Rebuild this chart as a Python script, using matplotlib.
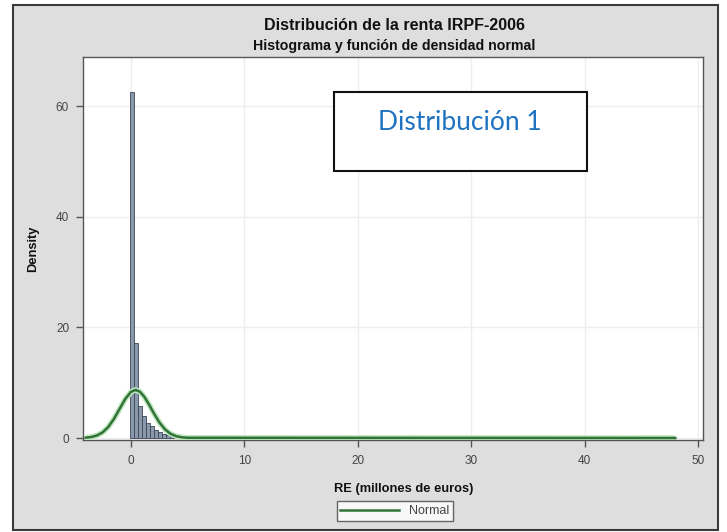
import matplotlib
matplotlib.use("Agg")
import matplotlib.pyplot as plt
from matplotlib.patches import Rectangle

# ---- data ----
bin_left = [-0.1, 0.25, 0.60, 0.95, 1.30, 1.65, 2.00, 2.35, 2.70, 3.05, 3.40, 3.75]
bin_width = 0.35
density = [62.5, 17.2, 5.7, 3.9, 2.8, 2.1, 1.5, 1.0, 0.7, 0.5, 0.3, 0.2]

normal_x = [-4.0, -3.5, -3.0, -2.5, -2.0, -1.5, -1.0, -0.5, 0.0, 0.4, 0.8, 1.2,
            1.6, 2.0, 2.5, 3.0, 3.5, 4.0, 4.5, 5.0, 48.0]
normal_y = [0.06, 0.18, 0.46, 1.02, 2.0, 3.46, 5.28, 7.07, 8.35, 8.7, 8.35, 7.39,
            6.03, 4.53, 2.83, 1.56, 0.75, 0.32, 0.12, 0.04, 0.0]

x_ticks = [0, 10, 20, 30, 40, 50]
y_ticks = [0, 20, 40, 60]

title = "Distribución de la renta IRPF-2006"
subtitle = "Histograma y función de densidad normal"
x_label = "RE (millones de euros)"
y_label = "Density"
legend_label = "Normal"
annotation = "Distribución 1"

# ---- figure ----
W, H = 727, 532
fig = plt.figure(figsize=(W / 100, H / 100), dpi=100)
fig.patch.set_facecolor("white")

def fx(px):
    return px / W

def fy(py):
    return 1 - py / H

# outer grey frame
fig.patches.append(Rectangle((fx(13), fy(530)), fx(718) - fx(13), fy(5) - fy(530),
                             transform=fig.transFigure, facecolor="#dedede",
                             edgecolor="#3a3a3a", linewidth=1.5, zorder=-5))

left, right, top, bottom = 83, 703, 57, 440
ax = fig.add_axes([fx(left), fy(bottom), (right - left) / W, (bottom - top) / H])
ax.set_zorder(1)
ax.set_facecolor("white")

ax.bar(bin_left, density, width=bin_width, align="edge",
       color="#8a98ab", edgecolor="#3b4658", linewidth=0.6, zorder=3)
ax.plot(normal_x, normal_y, color="#bfe6bf", linewidth=4.0, zorder=4, solid_capstyle="butt")
ax.plot(normal_x, normal_y, color="#317336", linewidth=1.8, zorder=5,
        label=legend_label)

ax.set_xlim(-4.23, 50.44)
ax.set_ylim(-0.36, 68.9)
ax.set_xticks(x_ticks)
ax.set_yticks(y_ticks)
ax.grid(True, color="#eeeeee", linewidth=1.0, zorder=0)
ax.set_axisbelow(True)
for s in ax.spines.values():
    s.set_color("#555555")
    s.set_linewidth(1.0)
ax.tick_params(direction="out", length=5, width=1, color="#555555",
               labelsize=8.5, labelcolor="#444444")
ax.tick_params(axis="x", pad=6)
ax.tick_params(axis="y", pad=5)
for lab in ax.get_xticklabels() + ax.get_yticklabels():
    lab.set_family("Liberation Sans")

fig.text(fx(394), fy(25), title, ha="center", va="center", fontsize=11.5,
         fontweight="bold", family="Liberation Sans", color="#111111")
fig.text(fx(394), fy(46), subtitle, ha="center", va="center", fontsize=10.2,
         fontweight="bold", family="Liberation Sans", color="#111111")
fig.text(fx(404), fy(489), x_label, ha="center", va="center", fontsize=9.3,
         fontweight="bold", family="Liberation Sans", color="#111111")
fig.text(fx(33), fy(249), y_label, ha="center", va="center", fontsize=9.3,
         fontweight="bold", family="Liberation Sans", color="#111111", rotation=90)

# annotation box
fig.patches.append(Rectangle((fx(334), fy(171)), fx(587) - fx(334), fy(92) - fy(171),
                             transform=fig.transFigure, facecolor="white",
                             edgecolor="#111111", linewidth=1.5, zorder=10))
fig.text(fx(460), fy(123), annotation, ha="center", va="center", fontsize=19,
         family="Lato", color="#1f72c0", zorder=11)

leg = ax.legend(loc="center", bbox_to_anchor=(fx(395), fy(511)),
                bbox_transform=fig.transFigure, frameon=True, fancybox=False,
                handlelength=4.7, borderpad=0.3,
                prop={"family": "Liberation Sans", "size": 9})
leg.get_frame().set_edgecolor("#444444")
leg.get_frame().set_linewidth(1.0)
for t in leg.get_texts():
    t.set_color("#444444")

fig.savefig("out.png", dpi=100)
